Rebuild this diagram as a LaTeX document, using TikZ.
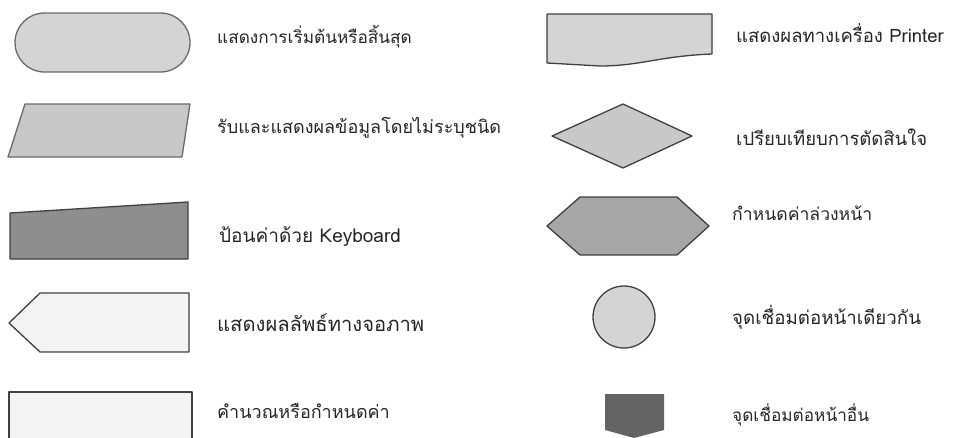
\documentclass[tikz,border=0pt]{standalone}
\usepackage{fontspec}
\newfontfamily\thaifont[Script=Thai]{Loma}
\definecolor{lgrey}{HTML}{D4D4D4}
\definecolor{mgrey}{HTML}{C8C8C8}
\definecolor{dgrey}{HTML}{8E8E8E}
\definecolor{hgrey}{HTML}{A6A6A6}
\definecolor{vlgrey}{HTML}{F3F3F3}
\definecolor{offgrey}{HTML}{646464}
\definecolor{edge}{HTML}{6A6A6A}
\definecolor{edgedark}{HTML}{404040}
\newcommand{\fsz}[1]{\fontsize{#1}{#1}\selectfont}
\begin{document}
\begin{tikzpicture}[x=1pt,y=-1pt,
  shapeline/.style={draw=edge,line width=1.3pt,line join=round},
  darkline/.style={draw=edgedark,line width=1.3pt,line join=round},
  label/.style={anchor=west,inner sep=0pt,font=\thaifont,text=black!85}]
\useasboundingbox (0,0) rectangle (953,437);
% left column
\draw[shapeline,fill=lgrey,rounded corners=29.5pt] (15,13) rectangle (190,72);
\node[label] (t1) at (217,37) {\fsz{17.2}แสดงการเริ่มต้นหรือสิ้นสุด};
\draw[shapeline,fill=mgrey] (25,104) -- (190,104) -- (182,157) -- (8,157) -- cycle;
\node[label] (t2) at (217,128) {\fsz{18}รับและแสดงผลข้อมูลโดยไม่ระบุชนิด};
\draw[darkline,fill=dgrey] (10,213) -- (188,202) -- (188,259) -- (10,259) -- cycle;
\node[label] (t3) at (219,237) {\fsz{19}ป้อนค่าด้วย Keyboard};
\draw[darkline,fill=vlgrey] (9,323) -- (40,293) -- (189,293) -- (189,352) -- (40,352) -- cycle;
\node[label] (t4) at (217,323) {\fsz{20.2}แสดงผลลัพธ์ทางจอภาพ};
\draw[darkline,fill=vlgrey] (9,450) -- (9,392) -- (192,392) -- (192,450);
\node[label] (t5) at (217,411) {\fsz{18}คำนวณหรือกำหนดค่า};
% right column
\draw[darkline,fill=lgrey] (547,14) -- (712,14) -- (712,54) .. controls (660,56) and (640,66) .. (600,66) -- (547,63) -- cycle;
\node[label] (t6) at (736,33) {\fsz{18.5}แสดงผลทางเครื่อง Printer};
\draw[shapeline,draw=edgedark,fill=mgrey] (552,136) -- (623,104) -- (692,136) -- (623,168) -- cycle;
\node[label] (t7) at (736,137) {\fsz{18.5}เปรียบเทียบการตัดสินใจ};
\draw[shapeline,draw=edgedark,fill=hgrey] (547,226) -- (580,197) -- (677,197) -- (709,226) -- (677,255) -- (580,255) -- cycle;
\node[label] (t8) at (732,213) {\fsz{17.6}กำหนดค่าล่วงหน้า};
\draw[shapeline,draw=edgedark,fill=lgrey] (624,317) circle (31);
\node[label] (t9) at (732,317) {\fsz{18.7}จุดเชื่อมต่อหน้าเดียวกัน};
\fill[offgrey] (605,394) -- (664,394) -- (664,430) -- (634,438) -- (605,430) -- cycle;
\node[label] (t10) at (732,415) {\fsz{17.2}จุดเชื่อมต่อหน้าอื่น};
\end{tikzpicture}
\end{document}
